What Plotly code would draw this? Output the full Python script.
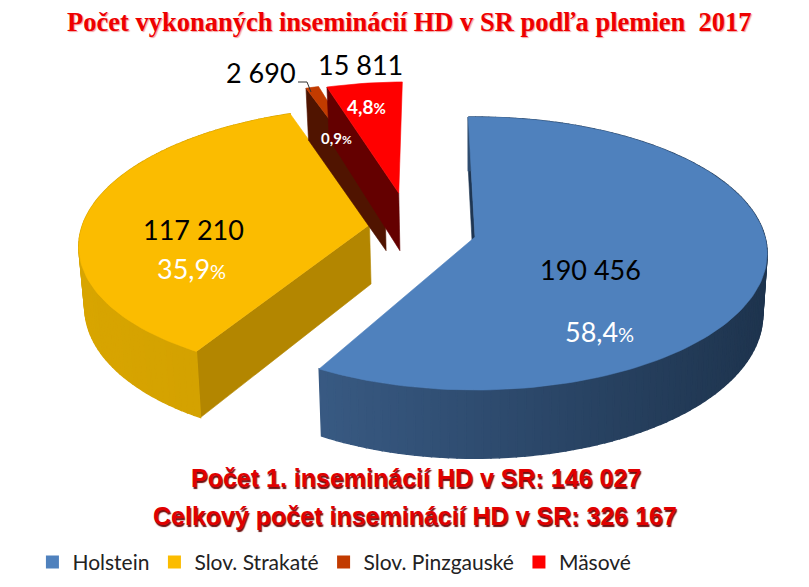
import math
import plotly.graph_objects as go

# ---- data ----
categories = ["Holstein", "Slov. Strakaté", "Slov. Pinzgauské", "Mäsové"]
values = [190456, 117210, 2690, 15811]
percent_labels = ["58,4", "35,9", "0,9", "4,8"]
count_labels = ["190 456", "117 210", "2 690", "15 811"]
title_text = "Počet vykonaných inseminácií HD v SR podľa plemien  2017"
summary_lines = ["Počet 1. inseminácií HD v SR: 146 027", "Celkový počet inseminácií HD v SR: 326 167"]

# ---- styling ----
top_colors = ["#4F81BD", "#FBBC00", "#C23B00", "#FF0000"]
wall_colors = ["#1F3652", "#B38600", "#501400", "#640000"]
rim_left = [(64, 101, 146), (216, 165, 0), (80, 20, 0), (100, 0, 0)]
rim_right = [(30, 52, 78), (194, 148, 0), (80, 20, 0), (100, 0, 0)]
explode_u = [0.0, -0.368, -0.324, -0.2737]
explode_v = [0.0, 0.093, 0.34, 0.34]
rotate_deg = [-1.5, 0, 0, -1.0]
CX, CY, RX, RY, K, DEPTH, SHRINK = 475, 237, 290, 134.5, 0.121, 60, 0.985
PAGE_MARGIN = 8  # the browser's default body margin


def project(u, v, lower=False):
    s = 1 / (1 + K * v)
    px = CX + RX * u * s
    py = CY - RY * v * s
    if lower:
        px = CX + (px - CX) * SHRINK
        py += DEPTH * s
    return px, py


def poly(points, color, width=0.6):
    xs = [p[0] for p in points] + [points[0][0]]
    ys = [p[1] for p in points] + [points[0][1]]
    return go.Scatter(x=xs, y=ys, mode="lines", fill="toself", fillcolor=color,
                      line=dict(color=color, width=width), hoverinfo="skip", showlegend=False)


fig = go.Figure()
total = sum(values)
start = 0.0
spans = []
for val in values:
    spans.append((start, start + val / total * 360))
    start += val / total * 360

for i, (a0, a1) in enumerate(spans):
    ou, ov = explode_u[i], explode_v[i]
    n = max(3, int((a1 - a0) / 1.5))
    angs = [math.radians(a0 + rotate_deg[i] + (a1 - a0) * j / n) for j in range(n + 1)]
    rim = [(ou + math.sin(a), ov + math.cos(a)) for a in angs]
    apex = (ou, ov)
    # the one cut wall that faces the viewer
    u, v = rim[0]
    fig.add_trace(poly([project(*apex), project(u, v), project(u, v, True), project(*apex, True)],
                       wall_colors[i]))
    # outer rim bands, shaded by horizontal position (only the two big slices show theirs)
    if i < 2:
        for j in range(n):
            (u0, v0), (u1, v1) = rim[j], rim[j + 1]
            q = [project(u0, v0), project(u1, v1), project(u1, v1, True), project(u0, v0, True)]
            mid = (q[0][0] + q[1][0]) / 2
            t = max(0, min(1, (mid - (CX + ou * RX - RX)) / (2 * RX)))
            c = [round(rim_left[i][k] + (rim_right[i][k] - rim_left[i][k]) * t) for k in range(3)]
            fig.add_trace(poly(q, "rgb(%d,%d,%d)" % tuple(c), 1.4))
    # top face
    fig.add_trace(poly([project(*apex)] + [project(u, v) for u, v in rim], top_colors[i]))

# leader line for the small slice
fig.add_trace(go.Scatter(x=[298, 307, 311], y=[82, 82, 92], mode="lines",
                         line=dict(color="#333333", width=1), hoverinfo="skip", showlegend=False))

# legend entries
for name, col in zip(categories, top_colors):
    fig.add_trace(go.Scatter(x=[None], y=[None], mode="markers", name=name,
                             marker=dict(symbol="square", size=13, color=col)))

LABEL = "Lato"


def note(x, y, text, size, color="#000000", family=LABEL, bold=False, shadow=None):
    font = dict(family=family, size=size, color=color, weight=700 if bold else 400)
    if shadow:
        font["shadow"] = shadow
    fig.add_annotation(x=x, y=y, xref="x", yref="y", text=text, showarrow=False,
                       xanchor="center", yanchor="middle", font=font)


def pct(i, small):
    return '%s<span style="font-size:%dpx">%%</span>' % (percent_labels[i], small)


note(409, 22, title_text, 26.5, "#EE0000", "Liberation Serif", True, "1px 1px 1px #F0A0A0")
note(416, 478, summary_lines[0], 25, "#E00000", "Liberation Sans", True, "1px 2px 1px #701010")
note(415, 516, summary_lines[1], 25, "#E00000", "Liberation Sans", True, "1px 2px 1px #701010")
note(590, 269, count_labels[0], 27)
note(599, 331, pct(0, 20), 27, "#FFFFFF")
note(193, 229, count_labels[1], 27)
note(191, 268, pct(1, 20), 27, "#FFFFFF")
note(261, 72, count_labels[2], 27)
note(360, 64, count_labels[3], 27)
note(336, 138, pct(2, 12), 15, "#FFFFFF", LABEL, True)
note(366, 106, pct(3, 15), 19, "#FFFFFF", LABEL, True)

fig.update_layout(
    width=809 - PAGE_MARGIN, height=587 - PAGE_MARGIN, margin=dict(l=0, r=0, t=0, b=0),
    paper_bgcolor="white", plot_bgcolor="white",
    xaxis=dict(range=[PAGE_MARGIN, 809], visible=False, fixedrange=True),
    yaxis=dict(range=[587, PAGE_MARGIN], visible=False, fixedrange=True),
    legend=dict(orientation="h", x=0.0305, y=0.007, yanchor="bottom", xanchor="left",
                font=dict(family=LABEL, size=21, color="#222222"), bgcolor="rgba(0,0,0,0)"),
)
fig.write_html("out.html", config={"displayModeBar": False})
